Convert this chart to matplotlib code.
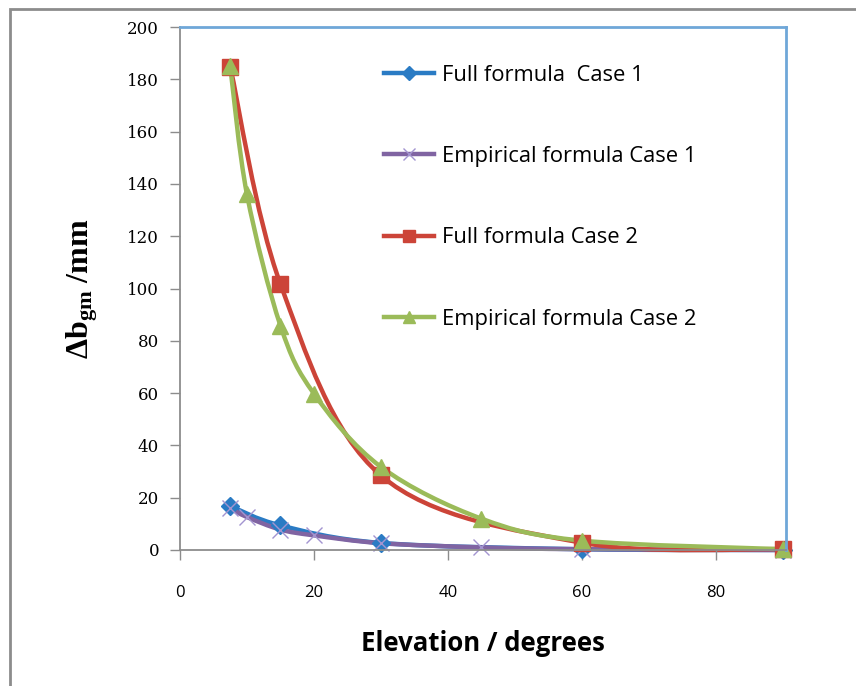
import numpy as np
import matplotlib
matplotlib.use("Agg")
import matplotlib.pyplot as plt
from matplotlib.path import Path
from matplotlib.patches import PathPatch, Rectangle
from matplotlib.lines import Line2D

plt.rcParams["mathtext.fontset"] = "custom"
plt.rcParams["mathtext.rm"] = "Liberation Serif:bold"
plt.rcParams["mathtext.it"] = "Liberation Serif:bold"
plt.rcParams["mathtext.bf"] = "Liberation Serif:bold"

# elevation angles (degrees) and bending delta (mm)
elev_full = [7.5, 15, 30, 60, 90]
elev_emp = [7.5, 10, 15, 20, 30, 45, 60, 90]

full_case1 = [16.8, 9.4, 2.7, 0.3, 0.0]
emp_case1 = [16.0, 12.6, 7.8, 5.6, 2.6, 1.0, 0.3, 0.0]
full_case2 = [184.8, 101.7, 28.5, 2.8, 0.3]
emp_case2 = [185.0, 136.0, 85.8, 59.8, 31.8, 12.0, 3.6, 0.3]

labels = ["Full formula  Case 1", "Empirical formula Case 1",
          "Full formula Case 2", "Empirical formula Case 2"]
colors = ["#2A7BC4", "#8064A2", "#CC4438", "#9BBB59"]


def smooth_path(x, y):
    # Catmull-Rom style bezier through the points (like a smoothed line)
    x = np.asarray(x, float)
    y = np.asarray(y, float)
    n = len(x)
    verts = [(x[0], y[0])]
    codes = [Path.MOVETO]
    for i in range(n - 1):
        i0 = max(i - 1, 0)
        i3 = min(i + 2, n - 1)
        c1 = (x[i] + (x[i + 1] - x[i0]) / 6, y[i] + (y[i + 1] - y[i0]) / 6)
        c2 = (x[i + 1] - (x[i3] - x[i]) / 6, y[i + 1] - (y[i3] - y[i]) / 6)
        verts += [c1, c2, (x[i + 1], y[i + 1])]
        codes += [Path.CURVE4] * 3
    return Path(verts, codes)


fig = plt.figure(figsize=(8.56, 6.86), dpi=100)
ax = fig.add_axes([180 / 856, 1 - 550 / 686, 606 / 856, 523 / 686])

# outer chart frame
fig.patches.append(Rectangle((10 / 856, -0.05), 1.0, 1 - 9 / 686 + 0.05,
                             transform=fig.transFigure, fill=False,
                             edgecolor="#8C8C8C", linewidth=2, clip_on=False))

series = [
    (elev_full, full_case1, "D", 9, colors[0], colors[0]),
    (elev_emp, emp_case1, "x", 11, colors[1], "#A394D0"),
    (elev_full, full_case2, "s", 11, colors[2], colors[2]),
    (elev_emp, emp_case2, "^", 11, colors[3], colors[3]),
]

handles = []
for (xs, ys, mk, ms, col, mcol), lab in zip(series, labels):
    ax.add_patch(PathPatch(smooth_path(xs, ys), fill=False, edgecolor=col,
                           linewidth=3.2, capstyle="round", joinstyle="round",
                           clip_on=False))
    ax.plot(xs, ys, linestyle="none", marker=mk, markersize=ms,
            color=mcol, markeredgecolor=mcol, markeredgewidth=1.0,
            clip_on=False)
    handles.append(Line2D([], [], color=col, linewidth=3.2, marker=mk,
                          markersize=ms * 0.8, markerfacecolor=mcol,
                          markeredgecolor=mcol, markeredgewidth=1.0))

ax.set_xlim(0, 90.5)
ax.set_ylim(0, 200)
ax.set_xticks([0, 20, 40, 60, 80])
ax.set_yticks(np.arange(0, 201, 20))

for lab in ax.get_xticklabels():
    lab.set_fontfamily("Open Sans")
    lab.set_fontsize(12)
for lab in ax.get_yticklabels():
    lab.set_fontfamily("DejaVu Serif")
    lab.set_fontsize(12)
ax.tick_params(axis="both", direction="out", length=7, width=1,
               color="#8C8C8C")
ax.tick_params(axis="x", pad=18)
ax.tick_params(axis="y", pad=8)

ax.spines["left"].set_color("#8C8C8C")
ax.spines["bottom"].set_color("#8C8C8C")
ax.spines["left"].set_linewidth(1.3)
ax.spines["bottom"].set_linewidth(1.3)
ax.spines["top"].set_color("#6FA7D8")
ax.spines["right"].set_color("#6FA7D8")
ax.spines["top"].set_linewidth(2)
ax.spines["right"].set_linewidth(2)

ax.set_ylabel(r"$\mathrm{\Delta b_{gm}}$ /mm", fontfamily="Liberation Serif",
              fontweight="bold", fontsize=23)
ax.yaxis.set_label_coords(-80 / 606, 0.5)
ax.set_xlabel("Elevation / degrees", fontfamily="Open Sans",
              fontweight="bold", fontsize=18.5)
ax.xaxis.set_label_coords(0.5, -80 / 523)

leg = ax.legend(handles, labels, loc="upper left",
                bbox_to_anchor=(195 / 606, 1 - 29 / 523), frameon=False,
                prop={"family": "Open Sans", "size": 15.8}, labelspacing=2.75,
                handlelength=2.3, handletextpad=0.35, borderaxespad=0)

fig.savefig("out.png", dpi=100)
